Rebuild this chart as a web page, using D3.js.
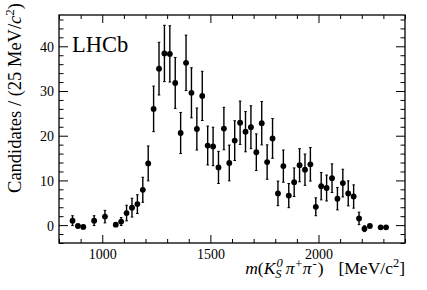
<!DOCTYPE html>
<html>
<head>
<meta charset="utf-8">
<script src="https://cdn.jsdelivr.net/npm/d3@7"></script>
<style>
	body { margin: 0; background: #fff; }
	text { font-family: "Liberation Serif", "DejaVu Serif", serif; fill: #000; }
	.domain { display: none; }
</style>
</head>
<body>
<div id="chart"></div>
<script>

// bin centres, 25 MeV bins
var massBins = [862.5, 887.5, 912.5, 962.5, 1012.5, 1062.5, 1087.5, 1112.5, 1137.5, 1162.5,
	1187.5, 1212.5, 1237.5, 1262.5, 1287.5, 1312.5, 1337.5, 1362.5, 1387.5, 1412.5,
	1437.5, 1462.5, 1487.5, 1512.5, 1537.5, 1562.5, 1587.5, 1612.5, 1637.5, 1662.5,
	1687.5, 1712.5, 1737.5, 1762.5, 1787.5, 1812.5, 1837.5, 1862.5, 1887.5, 1912.5,
	1937.5, 1962.5, 1987.5, 2012.5, 2037.5, 2062.5, 2087.5, 2112.5, 2137.5, 2162.5,
	2187.5, 2212.5, 2237.5, 2287.5, 2312.5];
var counts = [1.0, -0.2, -0.4, 1.0, 1.9, 0.1, 0.8, 2.7, 3.9, 4.7,
	7.9, 13.8, 26.0, 35.0, 38.4, 38.3, 31.8, 20.6, 36.3, 29.6,
	21.5, 28.9, 17.8, 17.6, 12.9, 21.6, 13.9, 18.9, 22.9, 20.9,
	21.9, 16.3, 22.8, 14.1, 19.4, 7.1, 13.2, 6.6, 9.6, 13.4,
	12.4, 13.6, 4.1, 8.7, 8.3, 10.5, 5.9, 9.4, 7.1, 6.4,
	1.5, -0.8, -0.2, -0.5, -0.5];
var errors = [1.1, 0.3, 0.4, 1.1, 1.4, 0.4, 0.9, 1.75, 2.1, 2.1,
	2.8, 3.9, 5.1, 5.9, 6.3, 6.3, 5.7, 4.6, 6.2, 5.6,
	4.7, 5.5, 4.35, 4.3, 3.6, 4.75, 4.0, 4.45, 4.85, 4.5,
	4.8, 4.1, 4.85, 3.85, 4.45, 2.75, 3.6, 2.7, 3.2, 3.7,
	3.5, 3.75, 2.0, 3.05, 2.9, 3.2, 2.5, 3.1, 2.8, 2.6,
	1.4, 0.65, 0.3, 0.3, 0.3];

var xMajor = [1000, 1500, 2000];
var yMajor = [0, 10, 20, 30, 40];

var W = 427, H = 290;
var frameL = 59, frameR = 405, frameT = 15, frameB = 243;

var svg = d3.select("#chart").append("svg")
	.attr("width", W)
	.attr("height", H);

var x = d3.scaleLinear().domain([800, 2400]).range([frameL, frameR]);
var y = d3.scaleLinear().domain([-4, 47]).range([frameB, frameT]);

var xMinor = d3.range(800, 2401, 100).filter(function(v) { return xMajor.indexOf(v) < 0; });
var yMinor = d3.range(-4, 47, 2).filter(function(v) { return yMajor.indexOf(v) < 0; });

// ticks on all four sides, pointing inwards
function addAxis(axis, tx, ty, labels) {
	var g = svg.append("g").attr("transform", "translate(" + tx + "," + ty + ")").call(axis);
	g.selectAll("line").attr("stroke", "#000").attr("stroke-width", 1);
	if (!labels) g.selectAll("text").remove();
	return g;
}

addAxis(d3.axisBottom(x).tickValues(xMinor).tickSize(-4).tickFormat(""), 0, frameB, false);
addAxis(d3.axisTop(x).tickValues(xMinor).tickSize(-4).tickFormat(""), 0, frameT, false);
addAxis(d3.axisTop(x).tickValues(xMajor).tickSize(-8), 0, frameT, false);
var xb = addAxis(d3.axisBottom(x).tickValues(xMajor).tickSize(-8).tickFormat(d3.format("d")), 0, frameB, true);
xb.selectAll("text")
	.attr("y", 16)
	.attr("dy", 0)
	.style("font-size", "14px");

addAxis(d3.axisLeft(y).tickValues(yMinor).tickSize(-4.5).tickFormat(""), frameL, 0, false);
addAxis(d3.axisRight(y).tickValues(yMinor).tickSize(-4.5).tickFormat(""), frameR, 0, false);
addAxis(d3.axisRight(y).tickValues(yMajor).tickSize(-9), frameR, 0, false);
var yl = addAxis(d3.axisLeft(y).tickValues(yMajor).tickSize(-9).tickFormat(d3.format("d")), frameL, 0, true);
yl.selectAll("text")
	.attr("x", -5)
	.attr("dy", "0.35em")
	.style("font-size", "14px");

svg.append("rect")
	.attr("x", frameL)
	.attr("y", frameT)
	.attr("width", frameR - frameL)
	.attr("height", frameB - frameT)
	.attr("fill", "none")
	.attr("stroke", "#000")
	.attr("stroke-width", 1.3);

// data points with error bars
var pts = massBins.map(function(m, i) { return {m: m, v: counts[i], e: errors[i]}; });

var pg = svg.append("g").classed("points", true);

pg.selectAll("line.err")
	.data(pts)
	.enter()
	.append("line")
	.classed("err", true)
	.attr("x1", function(d) { return x(d.m); })
	.attr("x2", function(d) { return x(d.m); })
	.attr("y1", function(d) { return y(d.v - d.e); })
	.attr("y2", function(d) { return y(d.v + d.e); })
	.attr("stroke", "#000")
	.attr("stroke-width", 1.4);

pg.selectAll("path.cap")
	.data(pts)
	.enter()
	.append("path")
	.classed("cap", true)
	.attr("d", function(d) {
		var cx = x(d.m);
		return "M" + (cx - 1.3) + "," + y(d.v + d.e) + "H" + (cx + 1.3) +
			"M" + (cx - 1.3) + "," + y(d.v - d.e) + "H" + (cx + 1.3);
	})
	.attr("stroke", "#000")
	.attr("stroke-width", 1);

pg.selectAll("line.xerr")
	.data(pts)
	.enter()
	.append("line")
	.classed("xerr", true)
	.attr("x1", function(d) { return x(d.m - 12.5) + 0.3; })
	.attr("x2", function(d) { return x(d.m + 12.5) - 0.3; })
	.attr("y1", function(d) { return y(d.v); })
	.attr("y2", function(d) { return y(d.v); })
	.attr("stroke", "#000")
	.attr("stroke-width", 1.6);

pg.selectAll("circle")
	.data(pts)
	.enter()
	.append("circle")
	.attr("cx", function(d) { return x(d.m); })
	.attr("cy", function(d) { return y(d.v); })
	.attr("r", 2.9)
	.attr("fill", "#000");

// labels
svg.append("text")
	.attr("x", 72)
	.attr("y", 52)
	.style("font-size", "22.5px")
	.text("LHCb");

var ytitle = svg.append("text")
	.attr("transform", "translate(21,3) rotate(-90)")
	.attr("text-anchor", "end")
	.style("font-size", "18.5px");
ytitle.append("tspan").text("Candidates / (25 MeV/");
ytitle.append("tspan").style("font-style", "italic").text("c");
ytitle.append("tspan").attr("dy", -7).style("font-size", "13px").text("2");
ytitle.append("tspan").attr("dy", 7).text(")");

var xtitle = svg.append("text")
	.attr("x", 405)
	.attr("y", 274)
	.attr("text-anchor", "end")
	.style("font-size", "17.5px");
xtitle.append("tspan").style("font-style", "italic").text("m");
xtitle.append("tspan").text("(");
xtitle.append("tspan").style("font-style", "italic").text("K");
xtitle.append("tspan").attr("dy", 4).style("font-style", "italic").style("font-size", "12.5px").text("S");
xtitle.append("tspan").attr("dx", -5).attr("dy", -11).style("font-style", "italic").style("font-size", "12.5px").text("0");
xtitle.append("tspan").attr("dx", 3).attr("dy", 7).style("font-style", "italic").text("π");
xtitle.append("tspan").attr("dx", 0.5).attr("dy", -6).style("font-size", "12.5px").text("+");
xtitle.append("tspan").attr("dx", 0.5).attr("dy", 6).style("font-style", "italic").text("π");
xtitle.append("tspan").attr("dx", 1).attr("dy", -6).style("font-size", "12.5px").text("-");
xtitle.append("tspan").attr("dx", 1).attr("dy", 6).text(")");
xtitle.append("tspan").attr("dx", 15).text("[MeV/c");
xtitle.append("tspan").attr("dy", -7).style("font-size", "12.5px").text("2");
xtitle.append("tspan").attr("dy", 7).text("]");

</script>
</body>
</html>
